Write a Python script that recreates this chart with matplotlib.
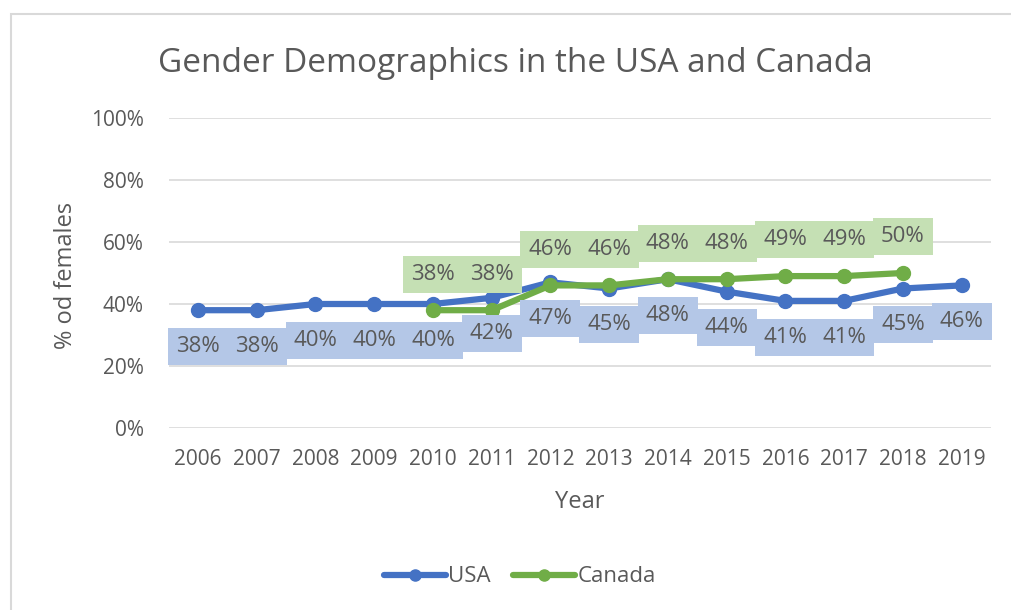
import matplotlib.pyplot as plt
from matplotlib.patches import Rectangle

years = ["2006", "2007", "2008", "2009", "2010", "2011", "2012",
         "2013", "2014", "2015", "2016", "2017", "2018", "2019"]
usa = [38, 38, 40, 40, 40, 42, 47, 45, 48, 44, 41, 41, 45, 46]
canada_years = ["2010", "2011", "2012", "2013", "2014", "2015", "2016",
                "2017", "2018"]
canada = [38, 38, 46, 46, 48, 48, 49, 49, 50]

BLUE = "#4472C4"
GREEN = "#70AD47"
TEXT = "#595959"

plt.rcParams['font.family'] = ['Open Sans', 'DejaVu Sans']

fig = plt.figure(figsize=(10.11, 6.10), dpi=100)
ax = fig.add_axes([168.6 / 1011, 1 - 428 / 610, (991 - 168.6) / 1011, 310 / 610])

# outer chart-area border
fig.patches.append(Rectangle((11 / 1011, -0.05), 1.1, 1 - 14 / 610 + 0.05,
                             transform=fig.transFigure, fill=False,
                             ec="#D9D9D9", lw=1.5))

x_usa = [years.index(y) for y in years]
x_can = [years.index(y) for y in canada_years]

ax.plot(x_usa, [v / 100 for v in usa], color=BLUE, lw=4.5, marker='o',
        ms=10, label="USA", zorder=3, solid_capstyle='round')
ax.plot(x_can, [v / 100 for v in canada], color=GREEN, lw=4.5, marker='o',
        ms=10, label="Canada", zorder=3, solid_capstyle='round')

# data labels: USA below the points, Canada above
for x, v in zip(x_usa, usa):
    ax.annotate(f"{v}%", (x, v / 100), xytext=(0, -26), textcoords='offset points',
                ha='center', va='center', fontsize=16, color=TEXT, zorder=4,
                bbox=dict(boxstyle='square,pad=0.36', fc="#B4C7E7", ec='none'))
for x, v in zip(x_can, canada):
    ax.annotate(f"{v}%", (x, v / 100), xytext=(0, 26), textcoords='offset points',
                ha='center', va='center', fontsize=16, color=TEXT, zorder=4,
                bbox=dict(boxstyle='square,pad=0.36', fc="#C5E0B4", ec='none'))

ax.set_xlim(-0.5, len(years) - 0.5)
ax.set_ylim(0, 1)
ax.set_xticks(range(len(years)))
ax.set_xticklabels(years)
ax.set_yticks([0, 0.2, 0.4, 0.6, 0.8, 1.0])
ax.set_yticklabels(["0%", "20%", "40%", "60%", "80%", "100%"])
ax.tick_params(length=0, labelsize=15, colors=TEXT, pad=15)
ax.tick_params(axis='y', pad=18)
ax.grid(axis='y', color="#D9D9D9", lw=1.2)
ax.set_axisbelow(True)
for s in ax.spines.values():
    s.set_visible(False)

fig.text(515 / 1011, 1 - 64 / 610, "Gender Demographics in the USA and Canada",
         ha='center', va='center', fontsize=24, color=TEXT)
fig.text(580 / 1011, 1 - 502 / 610, "Year", ha='center', va='center',
         fontsize=17, color=TEXT)
fig.text(66 / 1011, 1 - 275 / 610, "% od females", ha='center', va='center',
         fontsize=17, color=TEXT, rotation=90)

fig.legend(loc='center', bbox_to_anchor=(520 / 1011, 1 - 577 / 610), ncol=2,
           frameon=False, fontsize=16, labelcolor=TEXT, handlelength=2.8,
           columnspacing=1.0, handletextpad=0.1, markerscale=0.8)

fig.savefig("out.png", dpi=100)
